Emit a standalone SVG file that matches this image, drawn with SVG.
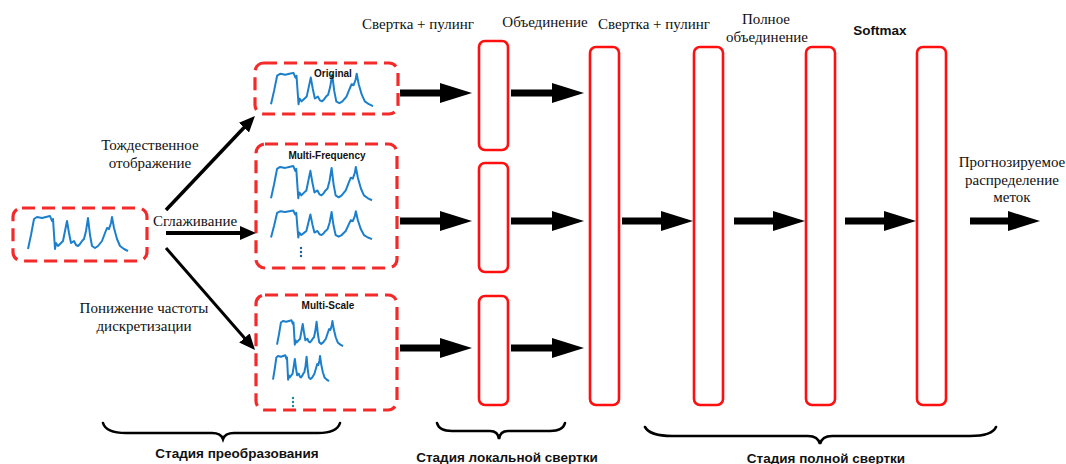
<svg xmlns="http://www.w3.org/2000/svg" xmlns:xlink="http://www.w3.org/1999/xlink" width="1066" height="464" viewBox="0 0 1066 464">
<style>
.dash{fill:none;stroke:#f22a2a;stroke-width:3.2;stroke-dasharray:13 7;}
.layer{fill:#fff;stroke:#ff1010;stroke-width:2.6;}
.sig{fill:none;stroke:#1b7fcc;stroke-width:2;stroke-linejoin:round;}
.big{stroke:#000;stroke-width:7;fill:none;marker-end:url(#bh);}
.thin{stroke:#000;stroke-width:3.5;fill:none;marker-end:url(#th);}
.brace{fill:none;stroke:#000;stroke-width:2.6;stroke-linecap:round;}
.ser{font-family:"Liberation Serif","Times New Roman",serif;font-size:15px;fill:#111;}
.bs{font-family:"Liberation Sans",Arial,sans-serif;font-weight:bold;fill:#111;}
</style>
<defs>
<marker id="bh" markerUnits="userSpaceOnUse" markerWidth="32" markerHeight="20" viewBox="0 0 32 20" refX="12" refY="10" orient="auto"><path d="M0,0 L32,10 L0,20 z" fill="#000"/></marker>
<marker id="th" markerUnits="userSpaceOnUse" markerWidth="16" markerHeight="14" viewBox="0 0 16 14" refX="4" refY="7" orient="auto"><path d="M0,0 L16,7 L0,14 z" fill="#000"/></marker>
<path id="wave" vector-effect="non-scaling-stroke" d="M0,36 L3,22 L6,6 L9,4 L14,5 L18,4 L22,3 L24,8 L25,6 L27,36 L28,30 L30,33 L33,30 L35,28 L37,18 L39,8 L41,20 L43,30 L46,28 L48,32 L50,33 L52,31 L54,28 L56,26 L58,18 L60,5 L62,22 L64,33 L67,35 L70,33 L74,28 L77,20 L79,15 L81,16 L83,10 L84,4 L86,15 L89,26 L92,33 L96,36 L100,38"/>
</defs>

<g id="input">
<rect class="dash" x="13" y="208" width="134" height="53" rx="9"/>
<use xlink:href="#wave" class="sig" transform="translate(28,213)"/>
</g>

<g id="original">
<rect class="dash" x="255" y="63" width="143" height="51" rx="9"/>
<use xlink:href="#wave" class="sig" transform="translate(271,70) scale(1.02,0.95)"/>
<text class="bs" x="333" y="77" font-size="10" text-anchor="middle">Original</text>
</g>

<g id="multifreq">
<rect class="dash" x="256" y="144" width="141" height="124" rx="9"/>
<text class="bs" x="327" y="159" font-size="10" text-anchor="middle">Multi-Frequency</text>
<use xlink:href="#wave" class="sig" transform="translate(271,163) scale(1.01,0.98)"/>
<use xlink:href="#wave" class="sig" transform="translate(271,208) scale(1.01,0.82)"/>
<g fill="#1b5f9c"><circle cx="301" cy="248" r="1.2"/><circle cx="301" cy="252" r="1.2"/><circle cx="301" cy="256" r="1.2"/></g>
</g>

<g id="multiscale">
<rect class="dash" x="256" y="295" width="141" height="115" rx="9"/>
<text class="bs" x="328" y="309" font-size="10" text-anchor="middle">Multi-Scale</text>
<use xlink:href="#wave" class="sig" transform="translate(277,318) scale(0.66,0.74)"/>
<use xlink:href="#wave" class="sig" transform="translate(273,353) scale(0.56,0.74)"/>
<g fill="#1a8a9a"><circle cx="293" cy="398" r="1.2"/><circle cx="293" cy="402" r="1.2"/><circle cx="293" cy="406" r="1.2"/></g>
</g>

<g id="local1"><rect class="layer" x="479" y="41" width="29" height="109" rx="6"/></g>
<g id="local2"><rect class="layer" x="479" y="163" width="29" height="109" rx="6"/></g>
<g id="local3"><rect class="layer" x="479" y="296" width="29" height="109" rx="6"/></g>
<g id="merge"><rect class="layer" x="590" y="47" width="29" height="358" rx="6"/></g>
<g id="conv2"><rect class="layer" x="694" y="47" width="29" height="358" rx="6"/></g>
<g id="fc"><rect class="layer" x="806" y="47" width="29" height="358" rx="6"/></g>
<g id="softmax"><rect class="layer" x="917" y="47" width="29" height="358" rx="6"/></g>

<g id="connectors">
<line class="thin" x1="166" y1="210" x2="246.7" y2="124.7"/>
<line class="thin" x1="166" y1="233" x2="244" y2="233" style="stroke-width:4"/>
<line class="thin" x1="166" y1="248" x2="247.1" y2="341" style="stroke-width:3"/>
<line class="big" x1="400" y1="93" x2="452" y2="93"/>
<line class="big" x1="400" y1="221" x2="452" y2="221"/>
<line class="big" x1="400" y1="348" x2="452" y2="348"/>
<line class="big" x1="511" y1="93" x2="564" y2="93"/>
<line class="big" x1="511" y1="221" x2="564" y2="221"/>
<line class="big" x1="511" y1="348" x2="564" y2="348"/>
<line class="big" x1="622" y1="221" x2="673" y2="221"/>
<line class="big" x1="734" y1="221" x2="785" y2="221"/>
<line class="big" x1="845" y1="221" x2="896" y2="221"/>
<line class="big" x1="970" y1="221" x2="1020" y2="221"/>
</g>

<g id="labels">
<text class="ser" x="150" y="150" text-anchor="middle">Тождественное</text>
<text class="ser" x="150" y="168" text-anchor="middle">отображение</text>
<text class="ser" x="195" y="226" text-anchor="middle">Сглаживание</text>
<text class="ser" x="144" y="313" text-anchor="middle">Понижение частоты</text>
<text class="ser" x="144" y="331" text-anchor="middle">дискретизации</text>
<text class="ser" x="418" y="29" text-anchor="middle">Свертка + пулинг</text>
<text class="ser" x="545" y="27" text-anchor="middle">Объединение</text>
<text class="ser" x="654" y="29" text-anchor="middle">Свертка + пулинг</text>
<text class="ser" x="766" y="24" text-anchor="middle">Полное</text>
<text class="ser" x="767" y="42" text-anchor="middle">объединение</text>
<text class="bs" x="880" y="35" font-size="13.5" text-anchor="middle">Softmax</text>
<text class="ser" x="1012" y="167" text-anchor="middle">Прогнозируемое</text>
<text class="ser" x="1012" y="185" text-anchor="middle">распределение</text>
<text class="ser" x="1012" y="202" text-anchor="middle">меток</text>
</g>

<g id="braces">
<path class="brace" d="M103,423 Q106,433 126,433 L212,433 Q221,433 223,439 Q225,433 234,433 L318,433 Q337,433 340,423"/>
<path class="brace" d="M437,423 Q439,431 452,431 L490,431 Q498,431 499,439 Q500,431 508,431 L550,431 Q563,431 565,423"/>
<path class="brace" d="M645,427 Q650,436 672,436 L808,436 Q818,436 820,444 Q822,436 832,436 L970,436 Q992,436 996,427"/>
<text class="bs" x="237" y="458" font-size="13.5" text-anchor="middle">Стадия преобразования</text>
<text class="bs" x="507" y="462" font-size="13.5" text-anchor="middle">Стадия локальной свертки</text>
<text class="bs" x="826" y="463" font-size="13.5" text-anchor="middle">Стадия полной свертки</text>
</g>
</svg>
